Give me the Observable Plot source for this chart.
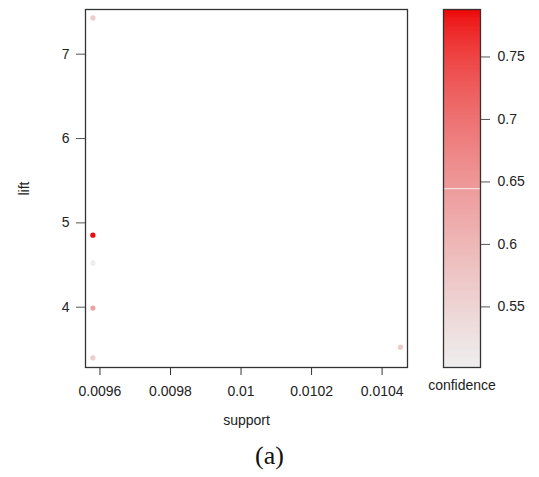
<!DOCTYPE html>
<html>
<head>
<meta charset="utf-8">
<script src="https://cdn.jsdelivr.net/npm/d3@7"></script>
<script src="https://cdn.jsdelivr.net/npm/@observablehq/plot@0.6"></script>
<style>
  html, body { margin: 0; padding: 0; background: #fff; }
  #wrap { position: relative; width: 539px; height: 477px; overflow: hidden; font-family: "Liberation Sans", Arial, sans-serif; }
  #main, #legend { position: absolute; top: 0; }
  #main { left: 0; }
  #legend { left: 420px; }
  #caption { position: absolute; left: 0; width: 539px; top: 441px; text-align: center; font-family: "Liberation Serif", "Times New Roman", serif; font-size: 26px; color: #111; }
  svg text { font-family: "Liberation Sans", Arial, sans-serif; }
</style>
</head>
<body>
<div id="wrap">
  <div id="main"></div>
  <div id="legend"></div>
  <div id="caption"><span style="position:relative;left:0px">(a)</span></div>
</div>
<script>
// Association rules: support, lift, confidence
const support    = [0.00958, 0.00958, 0.00958, 0.00958, 0.00958, 0.010452];
const lift       = [7.43,    4.854,   4.525,   3.99,    3.40,    3.526];
const confidence = [0.565,   0.786,   0.503,   0.632,   0.562,   0.566];

const xTicks = [0.0096, 0.0098, 0.01, 0.0102, 0.0104];
const yTicks = [4, 5, 6, 7];
const confTicks = [0.55, 0.6, 0.65, 0.7, 0.75];
const confDomain = [0.5015, 0.788];
const rampColors = ["#EEEEEE", "#EE0000"];

const rules = support.map((s, i) => ({support: s, lift: lift[i], confidence: confidence[i]}));

const colorScale = {type: "linear", domain: confDomain, range: rampColors, interpolate: d3.interpolateRgb.gamma(1.6)};
const tickFont = 14;
const labelFont = 14;
const ink = "#222";

const main = Plot.plot({
  width: 430,
  height: 440,
  marginLeft: 85,
  marginTop: 9,
  marginRight: 23,
  marginBottom: 73,
  style: {fontFamily: "Liberation Sans, Arial, sans-serif", color: ink, background: "#fff"},
  x: {domain: [0.009559, 0.010472]},
  y: {domain: [3.285, 7.53]},
  color: colorScale,
  marks: [
    Plot.dot(rules, {x: "support", y: "lift", fill: "confidence", r: 2.6, stroke: null}),
    Plot.frame({stroke: "#333", strokeWidth: 1.3}),
    Plot.axisX({ticks: xTicks, tickFormat: d => String(d), tickSize: 8, tickPadding: 11, stroke: "#333", fontSize: tickFont, label: null}),
    Plot.axisY({ticks: yTicks, tickFormat: d => String(d), tickSize: 9, tickPadding: 7, stroke: "#555", fontSize: tickFont, label: null}),
    Plot.text(["support"], {frameAnchor: "bottom", dy: 53, lineAnchor: "middle", fontSize: labelFont, fill: ink}),
    Plot.text(["lift"], {frameAnchor: "left", dx: -61, rotate: -90, lineAnchor: "middle", textAnchor: "middle", fontSize: labelFont, fill: ink})
  ]
});
document.getElementById("main").appendChild(main);

// Legend color bar (continuous ramp drawn as thin cells through the color scale)
const N = 200;
const steps = d3.range(N).map(i => {
  const lo = confDomain[0] + (confDomain[1] - confDomain[0]) * i / N;
  const hi = confDomain[0] + (confDomain[1] - confDomain[0]) * (i + 1) / N;
  return {lo, hi, mid: (lo + hi) / 2};
});

const legend = Plot.plot({
  width: 119,
  height: 440,
  marginLeft: 23,
  marginRight: 59,
  marginTop: 9,
  marginBottom: 73,
  style: {fontFamily: "Liberation Sans, Arial, sans-serif", color: ink, background: "transparent"},
  x: {domain: [0, 1], axis: null},
  y: {domain: confDomain},
  color: colorScale,
  marks: [
    Plot.rect(steps, {x1: 0, x2: 1, y1: "lo", y2: "hi", fill: "mid", stroke: "mid", strokeWidth: 1, shapeRendering: "crispEdges"}),
    Plot.ruleY([0.6447], {stroke: "#f6dede", strokeWidth: 1.2}),
    Plot.frame({stroke: "#333", strokeWidth: 1.3}),
    Plot.axisY({anchor: "right", ticks: confTicks, tickFormat: d => String(d), tickSize: 9, tickPadding: 8, stroke: "#555", fontSize: tickFont, label: null}),
    Plot.text(["confidence"], {frameAnchor: "bottom", dy: 18, lineAnchor: "middle", fontSize: labelFont, fill: ink})
  ]
});
document.getElementById("legend").appendChild(legend);
</script>
</body>
</html>
